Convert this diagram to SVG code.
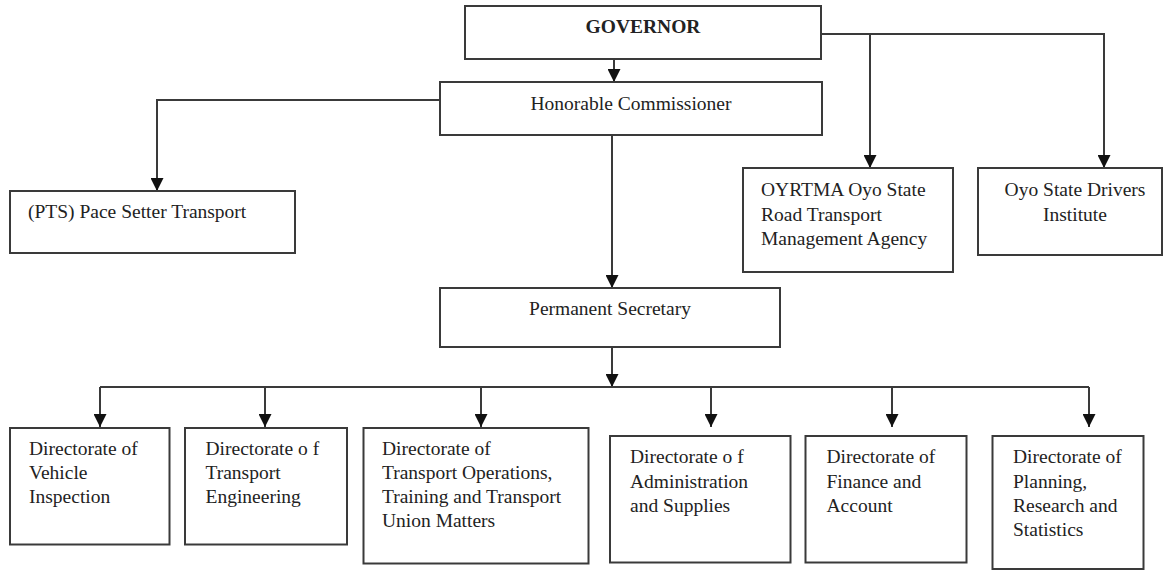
<svg xmlns="http://www.w3.org/2000/svg" width="1167" height="570" viewBox="0 0 1167 570">
<style>
.box{fill:#fff;stroke:#3a3a3a;stroke-width:2}
.t{font-family:"Liberation Serif","Times New Roman",serif;font-size:19.5px;fill:#222}
.b{font-weight:bold}
.c{fill:none;stroke:#3a3a3a;stroke-width:2}
</style>
<defs>
<marker id="ah" markerUnits="userSpaceOnUse" markerWidth="13" markerHeight="13" viewBox="0 0 13 13" refX="13" refY="6.5" orient="auto">
<path d="M0,0 L13,6.5 L0,13 z" fill="#111"/>
</marker>
</defs>
<rect width="1167" height="570" fill="#fff"/>
<g id="connectors">
<path class="c" d="M614,59 V82" marker-end="url(#ah)"/>
<path class="c" d="M821,34 H1104 V168"  marker-end="url(#ah)"/>
<path class="c" d="M870,34 V168" marker-end="url(#ah)"/>
<path class="c" d="M440,100 H157 V191" marker-end="url(#ah)"/>
<path class="c" d="M612,135 V288" marker-end="url(#ah)"/>
<path class="c" d="M612,347 V387" marker-end="url(#ah)"/>
<path class="c" d="M100,387 H1089"/>
<path class="c" d="M100,387 V427" marker-end="url(#ah)"/>
<path class="c" d="M265,387 V427" marker-end="url(#ah)"/>
<path class="c" d="M481,387 V427" marker-end="url(#ah)"/>
<path class="c" d="M711,387 V427" marker-end="url(#ah)"/>
<path class="c" d="M892,387 V427" marker-end="url(#ah)"/>
<path class="c" d="M1089,387 V427" marker-end="url(#ah)"/>
</g>
<g id="governor">
<rect class="box" x="465" y="6" width="356" height="53"/>
<text class="t b" x="643" y="33" text-anchor="middle">GOVERNOR</text>
</g>
<g id="commissioner">
<rect class="box" x="440" y="82" width="382" height="53"/>
<text class="t" x="631" y="110" text-anchor="middle">Honorable Commissioner</text>
</g>
<g id="pts">
<rect class="box" x="10" y="191" width="285" height="62"/>
<text class="t" x="28" y="218">(PTS) Pace Setter Transport</text>
</g>
<g id="oyrtma">
<rect class="box" x="743" y="168" width="210" height="104"/>
<text class="t" x="761" y="196">OYRTMA Oyo State</text>
<text class="t" x="761" y="220.5">Road Transport</text>
<text class="t" x="761" y="245">Management Agency</text>
</g>
<g id="drivers">
<rect class="box" x="978" y="168" width="184" height="87"/>
<text class="t" x="1075" y="196" text-anchor="middle">Oyo State Drivers</text>
<text class="t" x="1075" y="220.5" text-anchor="middle">Institute</text>
</g>
<g id="secretary">
<rect class="box" x="440" y="288" width="340" height="59"/>
<text class="t" x="610" y="315" text-anchor="middle">Permanent Secretary</text>
</g>
<g id="vehicle">
<rect class="box" x="10" y="428" width="159.5" height="116.5"/>
<text class="t" x="29" y="455">Directorate of</text>
<text class="t" x="29" y="479">Vehicle</text>
<text class="t" x="29" y="503">Inspection</text>
</g>
<g id="engineering">
<rect class="box" x="185" y="428" width="162" height="116.5"/>
<text class="t" x="205.5" y="455">Directorate o f</text>
<text class="t" x="205.5" y="479">Transport</text>
<text class="t" x="205.5" y="503">Engineering</text>
</g>
<g id="operations">
<rect class="box" x="363.5" y="428" width="225" height="135.5"/>
<text class="t" x="382" y="455">Directorate of</text>
<text class="t" x="382" y="479">Transport Operations,</text>
<text class="t" x="382" y="503">Training and Transport</text>
<text class="t" x="382" y="527">Union Matters</text>
</g>
<g id="administration">
<rect class="box" x="610" y="436" width="180.5" height="126.5"/>
<text class="t" x="630" y="463">Directorate o f</text>
<text class="t" x="630" y="487.5">Administration</text>
<text class="t" x="630" y="512">and Supplies</text>
</g>
<g id="finance">
<rect class="box" x="805.5" y="436" width="161" height="126.5"/>
<text class="t" x="826.5" y="463">Directorate of</text>
<text class="t" x="826.5" y="487.5">Finance and</text>
<text class="t" x="826.5" y="512">Account</text>
</g>
<g id="planning">
<rect class="box" x="992.5" y="436" width="151" height="133"/>
<text class="t" x="1013" y="463">Directorate of</text>
<text class="t" x="1013" y="487.5">Planning,</text>
<text class="t" x="1013" y="512">Research and</text>
<text class="t" x="1013" y="536">Statistics</text>
</g>
</svg>
